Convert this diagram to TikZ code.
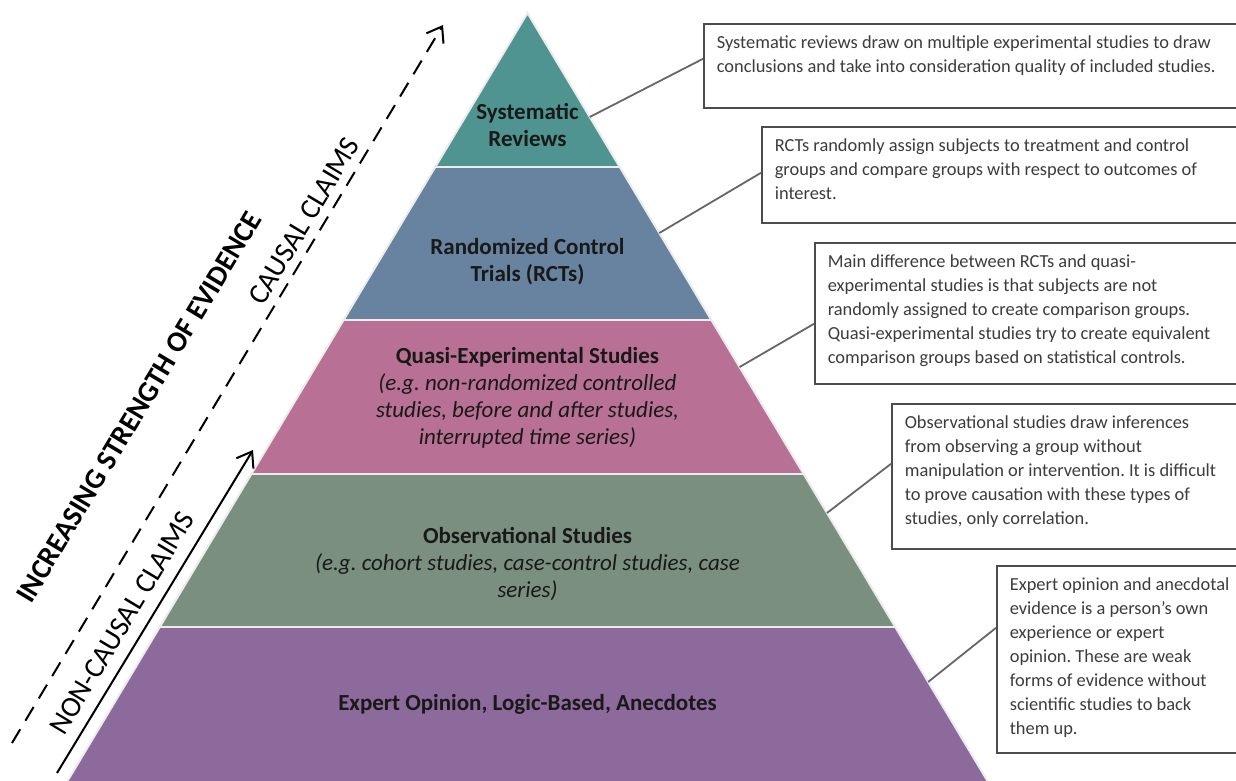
\documentclass[tikz,border=0pt]{standalone}
\usepackage{fontspec}
\setmainfont{Carlito}
\usepackage{tikz}
\usetikzlibrary{calc,arrows.meta}

\definecolor{sysgreen}{RGB}{79,148,144}
\definecolor{rctblue}{RGB}{103,131,160}
\definecolor{quasipink}{RGB}{184,112,148}
\definecolor{obsgreen}{RGB}{122,143,127}
\definecolor{exppurple}{RGB}{140,106,156}
\definecolor{boxgray}{RGB}{60,60,60}

\newcommand{\infotext}[3]{\parbox[t][#1][t]{#2}{\raggedright\strut #3}}
\frenchspacing

\begin{document}
\begin{tikzpicture}[x=0.5pt, y=-0.5pt,
  layer/.style={draw=white!85!gray, line width=1pt},
  tier/.style={font=\fontsize{11.5}{13.5}\selectfont, align=center, text=black!90},
  infobox/.style={draw=black!70, line width=0.8pt, fill=white, anchor=north west, inner xsep=6.5pt, inner ysep=4pt, text=boxgray, font=\fontsize{9.2}{12}\selectfont},
  leader/.style={draw=black!60, line width=0.9pt},
  claim/.style={rotate=59, font=\fontsize{14.5}{17}\selectfont},
  >={Straight Barb[length=7pt,width=10pt]}]
\useasboundingbox (0,0) rectangle (1236,781);
\clip (0,0) rectangle (1236,781);

\coordinate (apex) at (527.5,13);
\coordinate (bl) at (67.5,781);
\coordinate (br) at (987.5,781);

% pyramid, five tiers of equal height
\path [fill=sysgreen] (apex) -- ($(apex)!0.2!(br)$) -- ($(apex)!0.2!(bl)$) -- cycle;
\path [fill=rctblue] ($(apex)!0.2!(bl)$) -- ($(apex)!0.2!(br)$) -- ($(apex)!0.4!(br)$) -- ($(apex)!0.4!(bl)$) -- cycle;
\path [fill=quasipink] ($(apex)!0.4!(bl)$) -- ($(apex)!0.4!(br)$) -- ($(apex)!0.6!(br)$) -- ($(apex)!0.6!(bl)$) -- cycle;
\path [fill=obsgreen] ($(apex)!0.6!(bl)$) -- ($(apex)!0.6!(br)$) -- ($(apex)!0.8!(br)$) -- ($(apex)!0.8!(bl)$) -- cycle;
\path [fill=exppurple] ($(apex)!0.8!(bl)$) -- ($(apex)!0.8!(br)$) -- (br) -- (bl) -- cycle;

\draw [layer] ($(apex)!0.2!(bl)$) -- ($(apex)!0.2!(br)$);
\draw [layer] ($(apex)!0.4!(bl)$) -- ($(apex)!0.4!(br)$);
\draw [layer] ($(apex)!0.6!(bl)$) -- ($(apex)!0.6!(br)$);
\draw [layer] ($(apex)!0.8!(bl)$) -- ($(apex)!0.8!(br)$);
\draw [layer] (bl) -- (apex) -- (br);

\node [tier] (systematic) at (527.5,125) {\textbf{Systematic}\\\textbf{Reviews}};
\node [tier] (rct) at (527.5,262) {\textbf{Randomized Control}\\\textbf{Trials (RCTs)}};
\node [tier] (quasi) at (527.5,398) {\textbf{Quasi-Experimental Studies}\\\textit{(e.g. non-randomized controlled}\\\textit{studies, before and after studies,}\\\textit{interrupted time series)}};
\node [tier] (observational) at (527.5,564) {\textbf{Observational Studies}\\\textit{(e.g. cohort studies, case-control studies, case}\\\textit{series)}};
\node [tier] (expert) at (527.5,704) {\textbf{Expert Opinion, Logic-Based, Anecdotes}};

% explanation boxes
\node [infobox] (sysbox) at (703,23) {\infotext{34pt}{265.5pt}{Systematic reviews draw on multiple experimental studies to draw\\conclusions and take into consideration quality of included studies.}};
\node [infobox] (rctbox) at (761,126) {\infotext{40pt}{236.5pt}{RCTs randomly assign subjects to treatment and control\\groups and compare groups with respect to outcomes of\\interest.}};
\node [infobox] (quasibox) at (814,242) {\infotext{62.5pt}{210pt}{Main difference between RCTs and quasi-\\experimental studies is that subjects are not\\randomly assigned to create comparison groups.\\Quasi-experimental studies try to create equivalent\\comparison groups based on statistical controls.}};
\node [infobox] (obsbox) at (891,403) {\infotext{64.5pt}{171.5pt}{Observational studies draw inferences\\from observing a group without\\manipulation or intervention. It is difficult\\to prove causation with these types of\\studies, only correlation.}};
\node [infobox] (expbox) at (996,565) {\infotext{85.5pt}{119pt}{Expert opinion and anecdotal\\evidence is a person’s own\\experience or expert\\opinion. These are weak\\forms of evidence without\\scientific studies to back\\them up.}};

\coordinate (sysedge) at ($(apex)!0.1354!(br)$);
\coordinate (rctedge) at ($(apex)!0.2865!(br)$);
\coordinate (quasiedge) at ($(apex)!0.461!(br)$);
\coordinate (obsedge) at ($(apex)!0.651!(br)$);
\coordinate (expedge) at ($(apex)!0.871!(br)$);

\draw [leader] (sysedge) -- ([yshift=3.5pt]sysbox.west);
\draw [leader] (rctedge) -- ([yshift=1pt]rctbox.west);
\draw [leader] (quasiedge) -- ([yshift=-5.25pt]quasibox.west);
\draw [leader] (obsedge) -- ([yshift=6.25pt]obsbox.west);
\draw [leader] (expedge) -- ([yshift=15.75pt]expbox.west);

% strength arrows on the left
\coordinate (dashtail) at (12,743);
\coordinate (dashtip) at (443,25);
\coordinate (solidtail) at (57,773);
\coordinate (solidtip) at (253,450);
\draw [->, line width=1pt, dash pattern=on 8pt off 5pt] (dashtail) -- (dashtip);
\draw [->, line width=1pt] (solidtail) -- (solidtip);

\node [claim, font=\fontsize{14.5}{17}\selectfont\bfseries] (strength) at (139,407) {INCREASING STRENGTH OF EVIDENCE};
\node [claim] (causal) at (304,221) {CAUSAL CLAIMS};
\node [claim] (noncausal) at (122,623) {NON-CAUSAL CLAIMS};
\end{tikzpicture}
\end{document}
